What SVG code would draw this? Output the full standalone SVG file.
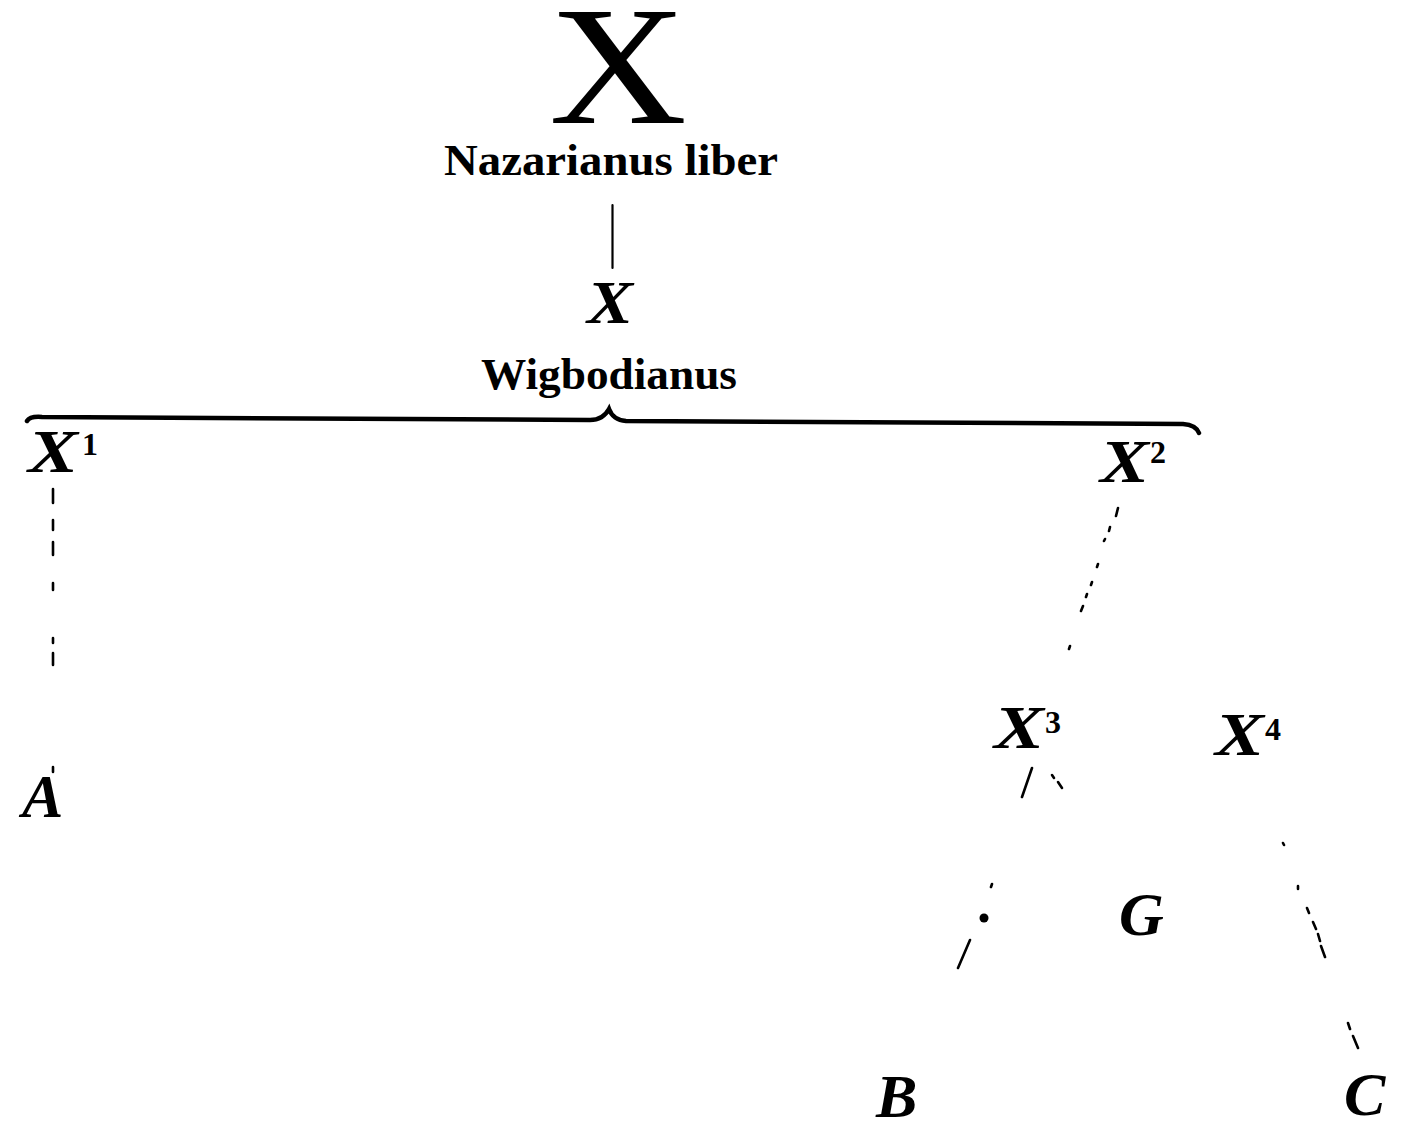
<svg xmlns="http://www.w3.org/2000/svg" width="1405" height="1133" viewBox="0 0 1405 1133">
<style>
.bg{fill:#fff}
.t{font-family:"Liberation Serif","Times New Roman",serif;fill:#000}
.rom{font-weight:bold}
.it{font-weight:bold;font-style:italic;font-size:62px}
.sup{font-weight:bold;font-style:normal;font-size:32px}
.ln{stroke:#000;fill:none;stroke-linecap:round}
.d{stroke:#000;stroke-width:2.6;stroke-linecap:round;fill:none}
</style>
<rect class="bg" x="0" y="0" width="1405" height="1133"/>
<g id="node-X-nazarianus">
<text class="t" x="618" y="123" font-size="170" text-anchor="middle" textLength="138" lengthAdjust="spacingAndGlyphs">X</text>
<text class="t rom" x="611" y="175" font-size="44" text-anchor="middle" textLength="334" lengthAdjust="spacingAndGlyphs">Nazarianus liber</text>
</g>
<g id="node-X-wigbodianus">
<text class="t it" x="610" y="323" text-anchor="middle" textLength="46" lengthAdjust="spacingAndGlyphs">X</text>
<text class="t rom" x="609" y="389" font-size="45" text-anchor="middle" textLength="256" lengthAdjust="spacingAndGlyphs">Wigbodianus</text>
</g>
<g id="node-X1"><text class="t it" x="28" y="472" textLength="50" lengthAdjust="spacingAndGlyphs">X</text><text class="t sup" x="82" y="455">1</text></g>
<g id="node-X2"><text class="t it" x="1100" y="482" textLength="49" lengthAdjust="spacingAndGlyphs">X</text><text class="t sup" x="1150" y="463">2</text></g>
<g id="node-X3"><text class="t it" x="994" y="748" textLength="50" lengthAdjust="spacingAndGlyphs">X</text><text class="t sup" x="1045" y="733">3</text></g>
<g id="node-X4"><text class="t it" x="1215" y="755" textLength="49" lengthAdjust="spacingAndGlyphs">X</text><text class="t sup" x="1265" y="740">4</text></g>
<g id="node-A"><text class="t it" x="22" y="817">A</text></g>
<g id="node-G"><text class="t it" x="1119" y="935">G</text></g>
<g id="node-B"><text class="t it" x="876" y="1117">B</text></g>
<g id="node-C"><text class="t it" x="1344" y="1115">C</text></g>
<g id="connectors">
<line class="ln" x1="612.5" y1="205" x2="612.5" y2="268" stroke-width="2.2"/>
<path class="ln" stroke-width="4.5" d="M27,421 Q30,416 42,417 L590,420 Q603,420 609,409 Q613,420 626,421 L1183,424 Q1196,425 1199,433"/>
<path class="d" d="M53,489 L53,503 M53,520 L53,530 M53,542 L53,555 M53,583 L53,590 M53,638 L53,643 M53,653 L53,665 M53,767 L53,772"/>
<path class="d" d="M1118,508 L1116,516 M1110,527 L1109,531 M1105,539 L1104,541 M1098,564 L1097,567 M1092,582 L1091,585 M1087,594 L1086,597 M1083,606 L1081,611 M1070,646 L1069,649"/>
<path class="d" d="M1032,768 L1022,797 M992,884 L991,887 M970,940 L958,968"/>
<circle cx="984" cy="918" r="4.5" fill="#000"/>
<path class="d" d="M1052,775 L1054,778 M1058,782 L1062,788"/>
<path class="d" d="M1283,843 L1284,845 M1298,886 L1298,889 M1307,908 L1309,913 M1313,922 L1316,929 M1318,934 L1320,941 M1321,946 L1325,957 M1348,1023 L1350,1029 M1353,1036 L1358,1048"/>
</g>
</svg>
